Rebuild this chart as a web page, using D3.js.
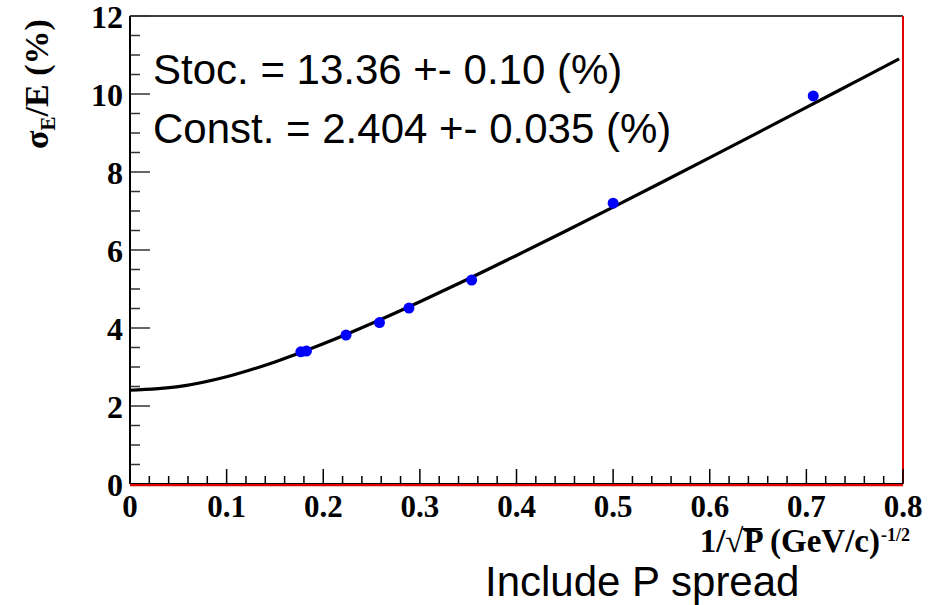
<!DOCTYPE html>
<html><head><meta charset="utf-8">
<script src="https://cdn.jsdelivr.net/npm/d3@7"></script>
<style>body{margin:0;background:#fff}svg{display:block}</style>
</head><body>
<svg id="c" width="933" height="605"></svg>
<script>
// data: x = 1/sqrt(P), y = sigma_E/E (%)
const pointX = [0.1768, 0.1826, 0.2236, 0.2582, 0.2887, 0.3536, 0.5, 0.7071];
const pointY = [3.39, 3.41, 3.82, 4.14, 4.51, 5.23, 7.20, 9.95];
// fitted curve
const curveX = [0, 0.05, 0.1, 0.15, 0.2, 0.25, 0.3, 0.35, 0.4, 0.45, 0.5, 0.55, 0.6, 0.65, 0.7, 0.75, 0.796];
const curveY = [2.404, 2.495, 2.750, 3.130, 3.594, 4.115, 4.674, 5.258, 5.860, 6.475, 7.099, 7.731, 8.369, 9.011, 9.656, 10.304, 10.90];
const xTicks = [0, 0.1, 0.2, 0.3, 0.4, 0.5, 0.6, 0.7, 0.8];
const yTicks = [0, 2, 4, 6, 8, 10, 12];
const statLines = ["Stoc. = 13.36 +- 0.10 (%)", "Const. = 2.404 +- 0.035 (%)"];

const svg = d3.select("#c");
const L = 130, R = 903, T = 16, B = 484;
const x = d3.scaleLinear().domain([0, 0.8]).range([L, R]);
const y = d3.scaleLinear().domain([0, 12]).range([B, T]);
const serif = "'Liberation Serif','Times New Roman',serif";
const sans = "'Liberation Sans',Arial,sans-serif";

// frame
svg.append("line").attr("x1", L).attr("x2", R).attr("y1", T).attr("y2", T).attr("stroke", "#000").attr("stroke-width", 1.5);
svg.append("line").attr("x1", R).attr("x2", R).attr("y1", T).attr("y2", B).attr("stroke", "#e00000").attr("stroke-width", 2);

// minor ticks
const xMinor = d3.range(0, 0.8001, 0.02);
svg.append("g").selectAll("line").data(xMinor).join("line")
  .attr("x1", d => x(d)).attr("x2", d => x(d))
  .attr("y1", B).attr("y2", d => (Math.abs(d * 10 - Math.round(d * 10)) < 1e-6) ? B - 15 : B - 8)
  .attr("stroke", "#000").attr("stroke-width", 1.5);
const yMinor = d3.range(0, 12.001, 0.5);
svg.append("g").selectAll("line").data(yMinor).join("line")
  .attr("y1", d => y(d)).attr("y2", d => y(d))
  .attr("x1", L).attr("x2", d => (d % 2 === 0) ? L + 20 : L + 10)
  .attr("stroke", "#333").attr("stroke-width", 1.5);

// axes lines
svg.append("line").attr("x1", L).attr("x2", L).attr("y1", T).attr("y2", B).attr("stroke", "#000").attr("stroke-width", 2);
svg.append("line").attr("x1", L).attr("x2", R).attr("y1", B + 1).attr("y2", B + 1).attr("stroke", "#e00000").attr("stroke-width", 2.5);
svg.append("line").attr("x1", L).attr("x2", R).attr("y1", B - 0.5).attr("y2", B - 0.5).attr("stroke", "#000").attr("stroke-width", 1);

// tick labels
svg.append("g").selectAll("text").data(xTicks).join("text")
  .attr("x", d => x(d)).attr("y", 517).attr("text-anchor", "middle")
  .attr("font-family", serif).attr("font-weight", "bold").attr("font-size", 31)
  .text(d => d === 0 ? "0" : d3.format(".1f")(d));
svg.append("g").selectAll("text").data(yTicks).join("text")
  .attr("x", 123).attr("y", d => y(d) + 12).attr("text-anchor", "end")
  .attr("font-family", serif).attr("font-weight", "bold").attr("font-size", 32)
  .text(d => d);

// axis titles
const yt = svg.append("text").attr("transform", "translate(48,84) rotate(-90)")
  .attr("text-anchor", "middle").attr("font-family", serif).attr("font-weight", "bold").attr("font-size", 34);
yt.append("tspan").text("σ");
yt.append("tspan").attr("font-size", 21).attr("dy", 7).text("E");
yt.append("tspan").attr("dy", -7).text("/E (%)");

const xt = svg.append("text").attr("x", 880).attr("y", 552).attr("text-anchor", "end")
  .attr("font-family", serif).attr("font-weight", "bold").attr("font-size", 33);
xt.append("tspan").text("1/√");
xt.append("tspan").text("P");
xt.append("tspan").text(" (GeV/c)");
// bar over P (radical vinculum)
const ext = xt.node().getExtentOfChar(3);
svg.append("line").attr("x1", ext.x - 1).attr("x2", ext.x + ext.width).attr("y1", 529).attr("y2", 529)
  .attr("stroke", "#000").attr("stroke-width", 2);
svg.append("text").attr("x", 881).attr("y", 541).attr("font-family", serif).attr("font-weight", "bold").attr("font-size", 18).text("-1/2");

// curve
const line = d3.line().x((d, i) => x(curveX[i])).y(d => y(d)).curve(d3.curveMonotoneX);
svg.append("path").attr("d", line(curveY)).attr("fill", "none").attr("stroke", "#000").attr("stroke-width", 3.2);

// points
svg.append("g").selectAll("circle").data(pointY).join("circle")
  .attr("cx", (d, i) => x(pointX[i])).attr("cy", d => y(d)).attr("r", 5.5).attr("fill", "#0000ff");

// stat text
svg.append("g").selectAll("text").data(statLines).join("text")
  .attr("x", 153).attr("y", (d, i) => 84 + i * 59)
  .attr("font-family", sans).attr("font-size", 42).attr("fill", "#000").text(d => d);

svg.append("text").attr("x", 485).attr("y", 596).attr("font-family", sans).attr("font-size", 42).attr("fill", "#000").text("Include P spread");
</script>
</body></html>
